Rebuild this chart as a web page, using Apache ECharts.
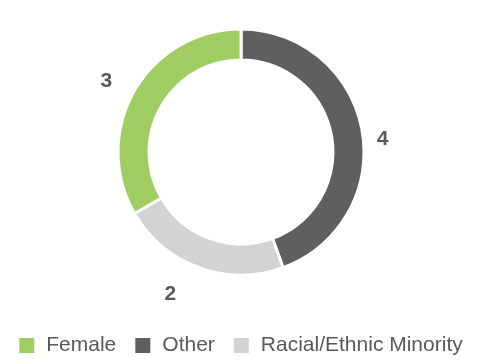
<!DOCTYPE html>
<html><head><meta charset="utf-8">
<script src="https://cdn.jsdelivr.net/npm/echarts@6/dist/echarts.min.js"></script>
<style>html,body{margin:0;padding:0;background:#fff}#c{width:480px;height:364px}</style>
</head><body><div id="c"></div>
<script>
const categories = ['Other', 'Racial/Ethnic Minority', 'Female'];
const values = [4, 2, 3];
const legendOrder = ['Female', 'Other', 'Racial/Ethnic Minority'];
const colors = {'Other': '#5f5f5f', 'Racial/Ethnic Minority': '#d3d3d3', 'Female': '#9fcd62'};
const labelShift = {'Other': [-10, 12], 'Racial/Ethnic Minority': [-11, 8], 'Female': [0, 1]};

const chart = echarts.init(document.getElementById('c'));
chart.setOption({
  animation: false,
  legend: {
    data: legendOrder,
    bottom: 3,
    left: 'center',
    itemWidth: 17, itemHeight: 17, itemGap: 17,
    icon: 'rect',
    textStyle: {fontFamily: 'Liberation Sans, Arial, sans-serif', fontSize: 21, color: '#595959', padding: [0,0,0,6]}
  },
  series: [{
    type: 'pie',
    center: [241, 152],
    radius: [92, 123],
    startAngle: 90,
    clockwise: true,
    itemStyle: {borderColor: '#fff', borderWidth: 3},
    label: {
      show: true, position: 'outside', formatter: '{c}',
      fontFamily: 'Liberation Sans, Arial, sans-serif', fontSize: 21, fontWeight: 'bold', color: '#595959'
    },
    labelLine: {show: false, length: 20, length2: 0},
    labelLayout: function (p) {
      const s = labelShift[categories[p.dataIndex]];
      return {dx: s[0], dy: s[1]};
    },
    data: categories.map((n, i) => ({name: n, value: values[i], itemStyle: {color: colors[n]}}))
  }]
});
</script></body></html>
